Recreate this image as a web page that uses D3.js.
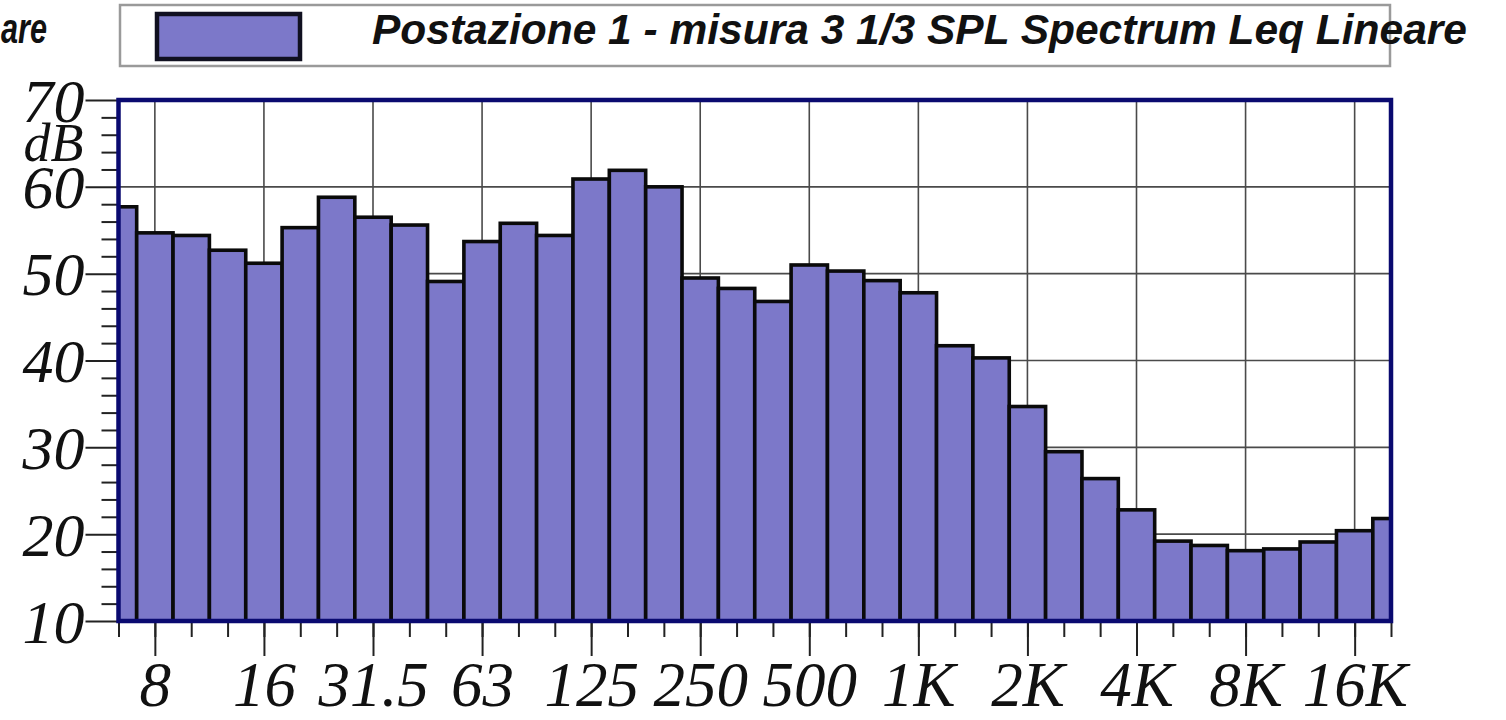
<!DOCTYPE html>
<html>
<head>
<meta charset="utf-8">
<script src="https://cdn.jsdelivr.net/npm/d3@7"></script>
<style>
  html, body { margin: 0; padding: 0; background: #ffffff; }
  svg { display: block; }
</style>
</head>
<body>
<svg id="chart" width="1506" height="720"></svg>
<script>
// ---- Data ----
const bands = ["6.3","8","10","12.5","16","20","25","31.5","40","50","63","80","100","125","160","200",
  "250","315","400","500","630","800","1K","1.25K","1.6K","2K","2.5K","3.15K","4K","5K","6.3K","8K",
  "10K","12.5K","16K","20K"];
const levels = [57.7,54.7,54.4,52.7,51.2,55.3,58.8,56.5,55.6,49.1,53.7,55.8,54.4,60.9,61.9,60.0,
  49.5,48.3,46.8,51.0,50.3,49.2,47.8,41.7,40.3,34.7,29.5,26.4,22.8,19.2,18.7,18.1,
  18.3,19.1,20.4,21.8];
const octaveLabels = ["8","16","31.5","63","125","250","500","1K","2K","4K","8K","16K"];
const yMajorTicks = [10,20,30,40,50,60,70];
const yGridTicks = [20,30,40,50,60];
const yMinorTicks = [12,14,16,18,22,24,26,28,32,34,36,38,42,44,46,48,52,54,56,58,62,64,66,68];
const unitLabel = "dB";
const legendLabel = "Postazione 1 - misura 3 1/3 SPL Spectrum Leq Lineare";
const cutLabel = "are";

// ---- Layout ----
const svg = d3.select("#chart");
const L = 118.5, R = 1391, T = 100, B = 621;
const barColor = "#7c78c9";
const serif = "'Liberation Serif', 'Times New Roman', serif";
const sans = "'Liberation Sans', Arial, sans-serif";

const x = d3.scaleLinear().domain([0, bands.length - 1]).range([L, R]);
const y = d3.scaleLinear().domain([10, 70]).range([B, T]);
const step = x(1) - x(0);
const octaveIdx = octaveLabels.map(l => bands.indexOf(l));

// clip
svg.append("defs").append("clipPath").attr("id", "plotclip")
  .append("rect").attr("x", L).attr("y", T).attr("width", R - L).attr("height", B - T);

// grid
const grid = svg.append("g").attr("stroke", "#4a4a4a").attr("stroke-width", 1.6);
grid.selectAll("line.h").data(yGridTicks).join("line").attr("class", "h")
  .attr("x1", L).attr("x2", R).attr("y1", d => y(d)).attr("y2", d => y(d));
grid.selectAll("line.v").data(octaveIdx).join("line").attr("class", "v")
  .attr("x1", d => x(d)).attr("x2", d => x(d)).attr("y1", T).attr("y2", B);

// bars
svg.append("g").attr("clip-path", "url(#plotclip)")
  .selectAll("rect").data(levels).join("rect")
  .attr("x", (d, i) => x(i) - step / 2)
  .attr("width", step)
  .attr("y", d => y(d))
  .attr("height", d => B - y(d) + 4)
  .attr("fill", barColor)
  .attr("stroke", "#0a0a0a")
  .attr("stroke-width", 3.6);

// x axis minor ticks
const xMinor = d3.axisBottom(x).tickValues(d3.range(bands.length)).tickSize(16).tickFormat("");
svg.append("g").attr("transform", `translate(0,${B})`).call(xMinor)
  .call(g => g.select(".domain").remove())
  .call(g => g.selectAll(".tick line").attr("stroke", "#222").attr("stroke-width", 2));

// x axis major ticks + labels
const xMajor = d3.axisBottom(x).tickValues(octaveIdx).tickSize(35)
  .tickFormat(i => bands[i]);
svg.append("g").attr("transform", `translate(0,${B})`).call(xMajor)
  .call(g => g.select(".domain").remove())
  .call(g => g.selectAll(".tick line").attr("stroke", "#222").attr("stroke-width", 2))
  .call(g => g.selectAll(".tick text")
    .attr("y", 85).attr("dy", 0)
    .attr("fill", "#111")
    .style("font-family", serif).style("font-style", "italic").style("font-size", "63px"));

// y axis minor ticks
const yMinor = d3.axisLeft(y).tickValues(yMinorTicks).tickSize(17).tickFormat("");
svg.append("g").attr("transform", `translate(${L},0)`).call(yMinor)
  .call(g => g.select(".domain").remove())
  .call(g => g.selectAll(".tick line").attr("stroke", "#222").attr("stroke-width", 2));

// y axis major ticks + labels
const yMajor = d3.axisLeft(y).tickValues(yMajorTicks).tickSize(33).tickFormat(d3.format("d"));
svg.append("g").attr("transform", `translate(${L},0)`).call(yMajor)
  .call(g => g.select(".domain").remove())
  .call(g => g.selectAll(".tick text")
    .attr("x", -34).attr("dy", "0.34em")
    .attr("fill", "#111")
    .style("font-family", serif).style("font-style", "italic").style("font-size", "62px"))
  .call(g => g.selectAll(".tick line").attr("stroke", "#222").attr("stroke-width", 2));

// unit label
svg.append("text").attr("x", L - 35).attr("y", y(65)).attr("dy", "0.33em")
  .attr("text-anchor", "end").attr("fill", "#111")
  .style("font-family", serif).style("font-style", "italic").style("font-size", "54px")
  .text(unitLabel);

// plot frame
svg.append("rect").attr("x", L).attr("y", T).attr("width", R - L).attr("height", B - T)
  .attr("fill", "none").attr("stroke", "#0a0a70").attr("stroke-width", 4.5);

// legend
svg.append("rect").attr("x", 120).attr("y", 5).attr("width", 1270).attr("height", 61)
  .attr("fill", "#fff").attr("stroke", "#9a9a9a").attr("stroke-width", 2.5);
svg.append("rect").attr("x", 157).attr("y", 14).attr("width", 143).attr("height", 45)
  .attr("fill", barColor).attr("stroke", "#101020").attr("stroke-width", 4.5);
svg.append("text").attr("x", 372).attr("y", 44)
  .attr("textLength", 1095).attr("lengthAdjust", "spacingAndGlyphs")
  .attr("fill", "#111")
  .style("font-family", sans).style("font-weight", "bold").style("font-style", "italic")
  .style("font-size", "42px")
  .text(legendLabel);
svg.append("text").attr("x", 1).attr("y", 43)
  .attr("textLength", 46).attr("lengthAdjust", "spacingAndGlyphs")
  .attr("fill", "#111")
  .style("font-family", sans).style("font-weight", "bold").style("font-style", "italic")
  .style("font-size", "42px")
  .text(cutLabel);
</script>
</body>
</html>
